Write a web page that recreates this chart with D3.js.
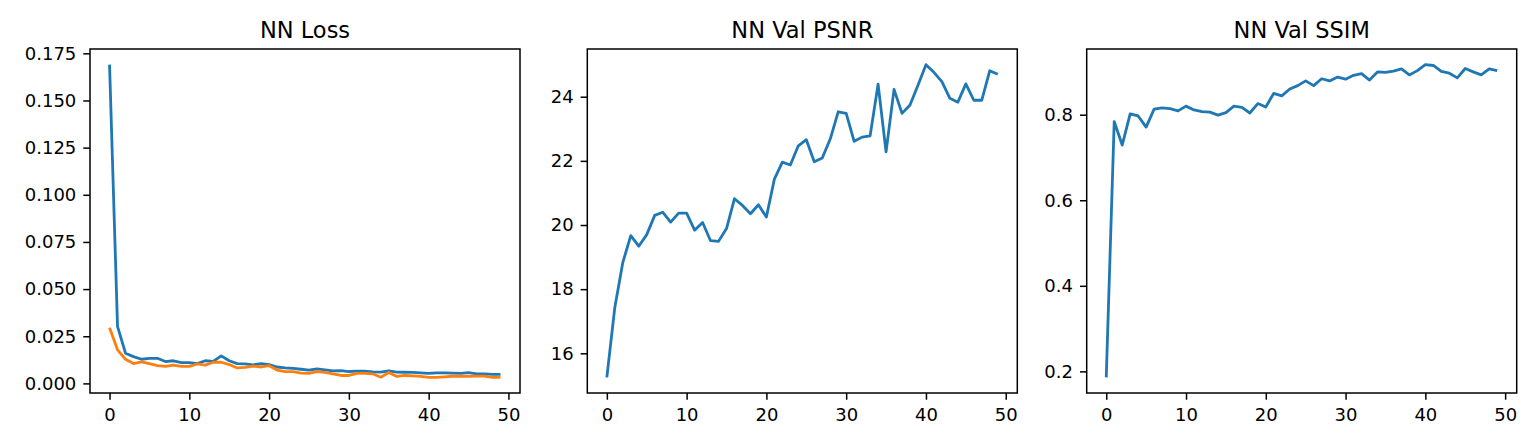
<!DOCTYPE html>
<html>
<head>
<meta charset="utf-8">
<script src="https://cdn.jsdelivr.net/npm/d3@7"></script>
<style>
  body { margin: 0; background: #fff; }
  svg { display: block; font-family: 'DejaVu Sans', sans-serif; }
</style>
</head>
<body>
<div id="chart"></div>
<script>
// epochs 0..49
const epochs = d3.range(0, 50)

const trainLoss = [0.169, 0.0302, 0.0160, 0.0142, 0.0128, 0.0133, 0.0133, 0.0116, 0.0120, 0.0110,
                   0.0110, 0.0105, 0.0120, 0.0117, 0.0146, 0.0120, 0.0105, 0.0103, 0.0098, 0.0105,
                   0.0100, 0.0087, 0.0082, 0.0080, 0.0075, 0.0070, 0.0077, 0.0072, 0.0066, 0.0068,
                   0.0063, 0.0065, 0.0065, 0.0061, 0.0060, 0.0066, 0.0060, 0.0059, 0.0058, 0.0056,
                   0.0053, 0.0056, 0.0056, 0.0055, 0.0053, 0.0057, 0.0051, 0.0051, 0.0048, 0.0048]

const valLoss = [0.0295, 0.0178, 0.0128, 0.0105, 0.0114, 0.0105, 0.0094, 0.0090, 0.0097, 0.0090,
                 0.0090, 0.0103, 0.0097, 0.0112, 0.0112, 0.0100, 0.0082, 0.0085, 0.0092, 0.0087,
                 0.0094, 0.0071, 0.0062, 0.0062, 0.0055, 0.0053, 0.0062, 0.0058, 0.0051, 0.0042,
                 0.0042, 0.0053, 0.0053, 0.0051, 0.0033, 0.0058, 0.0037, 0.0042, 0.0040, 0.0037,
                 0.0032, 0.0032, 0.0035, 0.0038, 0.0039, 0.0037, 0.0039, 0.0039, 0.0032, 0.0032]

const valPsnr = [15.25, 17.43, 18.83, 19.67, 19.34, 19.70, 20.30, 20.40, 20.09, 20.37,
                 20.37, 19.84, 20.08, 19.51, 19.49, 19.89, 20.82, 20.61, 20.35, 20.63,
                 20.25, 21.43, 21.96, 21.87, 22.47, 22.66, 21.97, 22.09, 22.68, 23.53,
                 23.48, 22.61, 22.74, 22.78, 24.39, 22.28, 24.23, 23.48, 23.74, 24.36,
                 25.00, 24.76, 24.47, 23.95, 23.83, 24.40, 23.89, 23.89, 24.81, 24.70]

const valSsim = [0.186, 0.784, 0.729, 0.802, 0.797, 0.771, 0.813, 0.816, 0.814, 0.809,
                 0.820, 0.811, 0.807, 0.806, 0.799, 0.805, 0.820, 0.817, 0.804, 0.826,
                 0.818, 0.850, 0.844, 0.860, 0.868, 0.879, 0.868, 0.884, 0.879, 0.888,
                 0.883, 0.892, 0.896, 0.881, 0.900, 0.899, 0.902, 0.907, 0.893, 0.903,
                 0.917, 0.915, 0.901, 0.897, 0.886, 0.908, 0.900, 0.893, 0.907, 0.903]

const xTicks = [0, 10, 20, 30, 40, 50]
const lossTicks = [0, 0.025, 0.05, 0.075, 0.1, 0.125, 0.15, 0.175]
const psnrTicks = [16, 18, 20, 22, 24]
const ssimTicks = [0.2, 0.4, 0.6, 0.8]

const width = 1540, height = 448
const plotTop = 49, plotBottom = 393, panelWidth = 430

const panels = [
    { title: 'NN Loss', left: 90, series: [trainLoss, valLoss], ticks: lossTicks, fmt: d3.format('.3f') },
    { title: 'NN Val PSNR', left: 587.3, series: [valPsnr], ticks: psnrTicks, fmt: d3.format('d') },
    { title: 'NN Val SSIM', left: 1086.7, series: [valSsim], ticks: ssimTicks, fmt: d3.format('.1f') }
]
const colors = ['#1f77b4', '#ff7f0e']

const svg = d3.select('#chart').append('svg')
              .attr('width', width)
              .attr('height', height)

// matplotlib style 5% margins
const padded = (lo, hi) => {
    const m = (hi - lo) * 0.05
    return [lo - m, hi + m]
}

panels.forEach(p => {
    const innerHeight = plotBottom - plotTop
    const g = svg.append('g').attr('transform', `translate(${p.left}, ${plotTop})`)

    const xScale = d3.scaleLinear().domain(padded(0, 49)).range([0, panelWidth])
    const all = p.series.flat()
    const yScale = d3.scaleLinear().domain(padded(d3.min(all), d3.max(all))).range([innerHeight, 0])

    const line = d3.line()
                   .x((d, i) => xScale(epochs[i]))
                   .y(d => yScale(d))

    p.series.forEach((s, i) => {
        g.append('path')
         .datum(s)
         .attr('d', line)
         .style('fill', 'none')
         .style('stroke', colors[i])
         .style('stroke-width', 2.8)
         .style('stroke-linejoin', 'round')
    })

    // x axis
    const xAxis = g.append('g')
                   .attr('transform', `translate(0, ${innerHeight})`)
                   .call(d3.axisBottom(xScale).tickValues(xTicks).tickSize(6.7).tickPadding(8.5).tickSizeOuter(0))
    // y axis
    const yAxis = g.append('g')
                   .call(d3.axisLeft(yScale).tickValues(p.ticks).tickFormat(p.fmt).tickSize(6.7).tickPadding(7).tickSizeOuter(0))

    ;[xAxis, yAxis].forEach(a => {
        a.select('.domain').remove()
        a.selectAll('.tick line').attr('stroke', '#000').attr('stroke-width', 1.5)
        a.selectAll('.tick text')
         .style('font-size', '18px')
         .style('font-family', "'DejaVu Sans', sans-serif")
         .attr('fill', '#000')
    })

    // frame
    g.append('rect')
     .attr('width', panelWidth)
     .attr('height', innerHeight)
     .style('fill', 'none')
     .style('stroke', '#000')
     .style('stroke-width', 1.5)

    // title
    svg.append('text')
       .text(p.title)
       .attr('text-anchor', 'middle')
       .attr('x', p.left + panelWidth / 2)
       .attr('y', 38.3)
       .style('font-size', '22.5px')
       .style('fill', '#000')
})
</script>
</body>
</html>
